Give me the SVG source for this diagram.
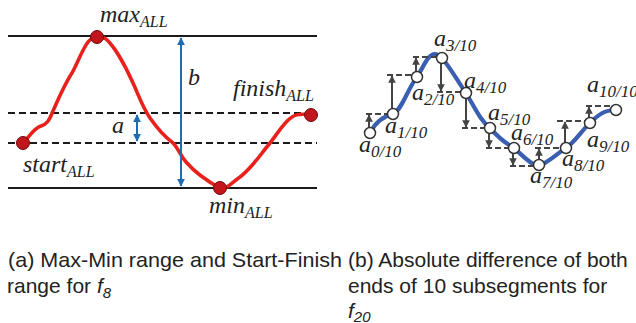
<svg xmlns="http://www.w3.org/2000/svg" width="636" height="323" viewBox="0 0 636 323">
<style>
.solid{stroke:#1a1a1a;stroke-width:2.2;fill:none}
.dash{stroke:#1a1a1a;stroke-width:2.2;fill:none;stroke-dasharray:7 4}
.red{stroke:#e8211c;stroke-width:3.6;fill:none;stroke-linecap:round;stroke-linejoin:round}
.blue{stroke:#3b5fb0;stroke-width:4.2;fill:none;stroke-linecap:round}
.barrow{stroke:#1c6db3;stroke-width:2;fill:none}
.garrow{stroke:#444;stroke-width:2;fill:none}
.gdash{stroke:#444;stroke-width:2.2;fill:none;stroke-dasharray:6 3}
.rdot{fill:#c0161c;stroke:#6e0b0e;stroke-width:1}
.wdot{fill:#fff;stroke:#333;stroke-width:1.5}
.lab{font-family:"Liberation Serif",serif;font-style:italic;font-size:24px;fill:#222}
.sub{font-size:16px}
.rsub{font-size:17px}
.cap{font-family:"Liberation Sans",Arial,sans-serif;font-size:21px;fill:#222}
.capi{font-style:italic}
</style>
<defs>
<marker id="bh" viewBox="0 0 10 10" refX="9" refY="5" markerWidth="4" markerHeight="4" orient="auto-start-reverse" markerUnits="strokeWidth">
<path d="M0,0 L10,5 L0,10 z" fill="#1c6db3"/>
</marker>
<marker id="gh" viewBox="0 0 10 10" refX="9" refY="5" markerWidth="3.8" markerHeight="3.8" orient="auto" markerUnits="strokeWidth">
<path d="M0,0 L10,5 L0,10 z" fill="#444"/>
</marker>
</defs>

<g id="left-panel">
<g id="guides">
<line class="solid" x1="8" y1="36" x2="317" y2="36"/>
<line class="dash" x1="8" y1="113" x2="317" y2="113"/>
<line class="dash" x1="8" y1="143" x2="317" y2="143"/>
<line class="solid" x1="8" y1="188" x2="317" y2="188"/>
</g>
<g id="curve-a">
<path class="red" d="M23,143 C30,136 34,128 41,126 C47,124 49,121 53,111 C60,95 66,82 72,73 C78,62 82,50 88,42 C93,36 100,35 106,39 C114,46 125,65 133,83 C139,96 142,106 150,118 C157,128 165,137 173,143 C178,148 180,155 186,162 C193,170 205,180 220,188 C226,190 230,184 240,177 C252,168 260,155 270,143 C278,133 284,122 292,117 C298,113 305,114 311,115"/>
</g>
<g id="connectors-a">
<line class="barrow" x1="181" y1="38" x2="181" y2="186" marker-start="url(#bh)" marker-end="url(#bh)"/>
<line class="barrow" x1="137" y1="115" x2="137" y2="141" marker-start="url(#bh)" marker-end="url(#bh)"/>
</g>
<g id="node-start"><circle class="rdot" cx="23" cy="143" r="6.5"/><text class="lab" x="23" y="172">start<tspan class="sub" dy="5">ALL</tspan></text></g>
<g id="node-max"><circle class="rdot" cx="97" cy="37" r="6.5"/><text class="lab" x="100" y="22">max<tspan class="sub" dy="5">ALL</tspan></text></g>
<g id="node-min"><circle class="rdot" cx="220" cy="188" r="6.5"/><text class="lab" x="209" y="213">min<tspan class="sub" dy="5">ALL</tspan></text></g>
<g id="node-finish"><circle class="rdot" cx="311" cy="115" r="6.5"/><text class="lab" x="233" y="96">finish<tspan class="sub" dy="5">ALL</tspan></text></g>
<text class="lab" x="112" y="133">a</text>
<text class="lab" x="188" y="85">b</text>
</g>

<g id="right-panel">
<g id="curve-b">
<path class="blue" d="M370,133 C374,125 380,117 393,114 C402,110 408,88 417,77 C424,66 428,54 435,54 C438,54 440,56 442,58 C452,70 458,82 466,93 C475,108 480,120 490,128 C497,136 505,143 514,148 C522,155 530,164 536,165 C545,166 555,155 566,148 C576,141 582,130 590,123 C598,115 604,110 616,110"/>
</g>
<g id="connectors-b">
<line class="gdash" x1="366" y1="114" x2="388" y2="114"/>
<line class="garrow" x1="369" y1="128" x2="369" y2="115" marker-end="url(#gh)"/>
<line class="gdash" x1="387" y1="75" x2="412" y2="75"/>
<line class="garrow" x1="392" y1="109" x2="392" y2="76" marker-end="url(#gh)"/>
<line class="gdash" x1="413" y1="57" x2="437" y2="57"/>
<line class="garrow" x1="416" y1="72" x2="416" y2="58" marker-end="url(#gh)"/>
<line class="gdash" x1="437" y1="92" x2="461" y2="92"/>
<line class="garrow" x1="441" y1="63" x2="441" y2="91" marker-end="url(#gh)"/>
<line class="gdash" x1="462" y1="128" x2="485" y2="128"/>
<line class="garrow" x1="466" y1="98" x2="466" y2="127" marker-end="url(#gh)"/>
<line class="gdash" x1="486" y1="148" x2="509" y2="148"/>
<line class="garrow" x1="489" y1="133" x2="489" y2="147" marker-end="url(#gh)"/>
<line class="gdash" x1="510" y1="166" x2="534" y2="166"/>
<line class="garrow" x1="513" y1="153" x2="513" y2="165" marker-end="url(#gh)"/>
<line class="gdash" x1="535" y1="148" x2="561" y2="148"/>
<line class="garrow" x1="539" y1="160" x2="539" y2="149" marker-end="url(#gh)"/>
<line class="gdash" x1="557" y1="121" x2="585" y2="121"/>
<line class="garrow" x1="565" y1="143" x2="565" y2="122" marker-end="url(#gh)"/>
<line class="gdash" x1="586" y1="106" x2="611" y2="106"/>
<line class="garrow" x1="589" y1="118" x2="589" y2="107" marker-end="url(#gh)"/>
</g>
<g id="node-a0"><circle class="wdot" cx="370" cy="133" r="5.5"/><text class="lab" x="359" y="152">a<tspan class="rsub" dy="5">0/10</tspan></text></g>
<g id="node-a1"><circle class="wdot" cx="393" cy="114" r="5.5"/><text class="lab" x="385" y="133">a<tspan class="rsub" dy="5">1/10</tspan></text></g>
<g id="node-a2"><circle class="wdot" cx="417" cy="77" r="5.5"/><text class="lab" x="412" y="100">a<tspan class="rsub" dy="5">2/10</tspan></text></g>
<g id="node-a3"><circle class="wdot" cx="442" cy="58" r="5.5"/><text class="lab" x="434" y="46">a<tspan class="rsub" dy="5">3/10</tspan></text></g>
<g id="node-a4"><circle class="wdot" cx="466" cy="93" r="5.5"/><text class="lab" x="464" y="88">a<tspan class="rsub" dy="5">4/10</tspan></text></g>
<g id="node-a5"><circle class="wdot" cx="490" cy="128" r="5.5"/><text class="lab" x="488" y="120">a<tspan class="rsub" dy="5">5/10</tspan></text></g>
<g id="node-a6"><circle class="wdot" cx="514" cy="148" r="5.5"/><text class="lab" x="511" y="140">a<tspan class="rsub" dy="5">6/10</tspan></text></g>
<g id="node-a7"><circle class="wdot" cx="539" cy="165" r="5.5"/><text class="lab" x="530" y="183">a<tspan class="rsub" dy="5">7/10</tspan></text></g>
<g id="node-a8"><circle class="wdot" cx="566" cy="148" r="5.5"/><text class="lab" x="562" y="166">a<tspan class="rsub" dy="5">8/10</tspan></text></g>
<g id="node-a9"><circle class="wdot" cx="590" cy="123" r="5.5"/><text class="lab" x="587" y="147">a<tspan class="rsub" dy="5">9/10</tspan></text></g>
<g id="node-a10"><circle class="wdot" cx="616" cy="110" r="5.5"/><text class="lab" x="587" y="92">a<tspan class="rsub" dy="5">10/10</tspan></text></g>
</g>

<g id="captions">
<text class="cap" x="8" y="267" textLength="334" lengthAdjust="spacingAndGlyphs">(a) Max-Min range and Start-Finish</text>
<text class="cap" x="7" y="293">range for <tspan class="capi">f</tspan><tspan class="capi" font-size="15" dy="5">8</tspan></text>
<text class="cap" x="348" y="267">(b) Absolute difference of both</text>
<text class="cap" x="348" y="293">ends of 10 subsegments for</text>
<text class="cap" x="348" y="318"><tspan class="capi">f</tspan><tspan class="capi" font-size="15" dy="4">20</tspan></text>
</g>
</svg>
